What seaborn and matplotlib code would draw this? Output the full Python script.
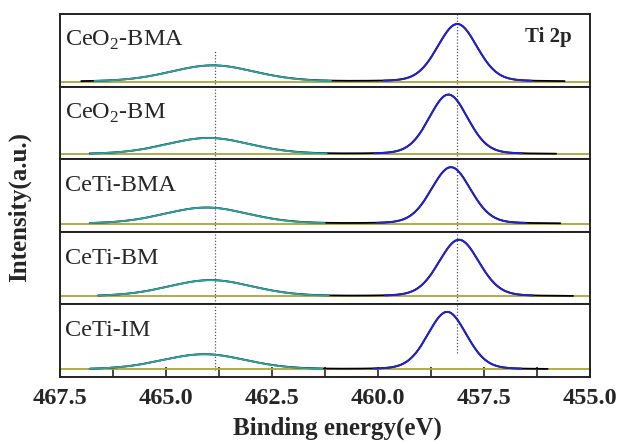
import numpy as np
import pandas as pd
import seaborn as sns
import matplotlib.pyplot as plt

# samples, top to bottom
samples = ['CeO$_2$-BMA', 'CeO$_2$-BM', 'CeTi-BMA', 'CeTi-BM', 'CeTi-IM']

# Ti 2p3/2 fitted peak (blue)
p32_center = [458.13, 458.34, 458.28, 458.09, 458.37]
p32_height = [57, 59, 56, 56, 57]
p32_fwhm = [1.10, 1.08, 1.10, 1.12, 1.08]

# Ti 2p1/2 fitted peak (teal)
p12_center = [463.90, 464.00, 464.05, 463.95, 464.10]
p12_height = [16, 16, 16, 16, 15]
p12_fwhm = [2.35, 2.35, 2.35, 2.35, 2.35]

# background level and measured range of each spectrum
background = [5, 5, 8, 8, 7.5]
scan_start = [467.0, 466.8, 466.8, 466.6, 466.8]
scan_end = [455.6, 455.8, 455.7, 455.4, 456.0]

# reference lines (dotted)
ref_ti12 = 463.84
ref_ti32 = 458.13


def peak(x, c, h, w):
    # gaussian/lorentzian mix, as used by the fitting software
    g = np.exp(-4 * np.log(2) * ((x - c) / w) ** 2)
    l = 1 / (1 + 4 * ((x - c) / w) ** 2)
    return h * (0.85 * g + 0.15 * l)


sns.set_style('white')
plt.rcParams['font.family'] = ['Liberation Serif', 'DejaVu Serif']
plt.rcParams['mathtext.fontset'] = 'custom'
plt.rcParams['mathtext.rm'] = 'Liberation Serif'

fig, axs = plt.subplots(5, 1, sharex=True, figsize=(6.22, 4.44), dpi=100)
fig.subplots_adjust(left=0.0965, right=0.9486, top=0.9685, bottom=0.151, hspace=0)

for i, ax in enumerate(axs):
    x = np.linspace(scan_start[i], scan_end[i], 800)
    b32 = peak(x, p32_center[i], p32_height[i], p32_fwhm[i])
    b12 = peak(x, p12_center[i], p12_height[i], p12_fwhm[i])
    raw = pd.DataFrame({'be': x, 'cps': b32 + b12 + background[i]})

    ax.axhline(background[i], color='#aaa63a', lw=1.3, zorder=1)
    sns.lineplot(data=raw, x='be', y='cps', color='black', lw=1.3, ax=ax, zorder=2)

    m32 = np.abs(x - p32_center[i]) < 1.75
    sns.lineplot(x=x[m32], y=b32[m32] + background[i], color='#2222d4', lw=1.4, ax=ax, zorder=3)
    m12 = np.abs(x - p12_center[i]) < 2.8
    sns.lineplot(x=x[m12], y=b12[m12] + background[i], color='#2ba3a3', lw=1.3, ax=ax, zorder=3)

    ax.set_ylim(0, 72)
    ax.set_yticks([])
    ax.set_ylabel('')
    ax.set_xlabel('')
    for s in ax.spines.values():
        s.set_color('#222222')
        s.set_linewidth(1.4)
    ax.text(0.01, 0.56, samples[i], transform=ax.transAxes, fontsize=17.5, ha='left', va='baseline')

    # dotted guide lines
    ax.axvline(ref_ti12, ymin=0.1 if i == 4 else 0, ymax=0.5 if i == 0 else 1,
               color='#555555', ls=(0, (1, 1.5)), lw=0.9, zorder=0)
    ax.axvline(ref_ti32, ymin=0.33 if i == 4 else 0, ymax=1,
               color='#555555', ls=(0, (1, 1.5)), lw=0.9, zorder=0)
    ax.tick_params(axis='x', which='both', bottom=False, top=False)

axs[0].text(0.966, 0.61, 'Ti 2p', transform=axs[0].transAxes, fontsize=15,
            fontweight='bold', ha='right', va='baseline')

ax = axs[-1]
ax.set_xlim(467.5, 455.0)
ax.set_xticks(np.arange(467.5, 454.9, -2.5))
ax.set_xticks(np.arange(466.25, 455.0, -2.5), minor=True)
ax.tick_params(axis='x', which='both', bottom=True, direction='in', length=7, width=1.2, pad=8)
ax.set_xticklabels(['%.1f' % v for v in np.arange(467.5, 454.9, -2.5)], fontsize=17.5, fontweight='bold')

fig.text(0.543, 0.036, 'Binding energy(eV)', fontsize=18, fontweight='bold', ha='center', va='center')
fig.text(0.032, 0.533, 'Intensity(a.u.)', fontsize=18, fontweight='bold', ha='center', va='center',
         rotation=90)

fig.savefig('out.png', dpi=100)
